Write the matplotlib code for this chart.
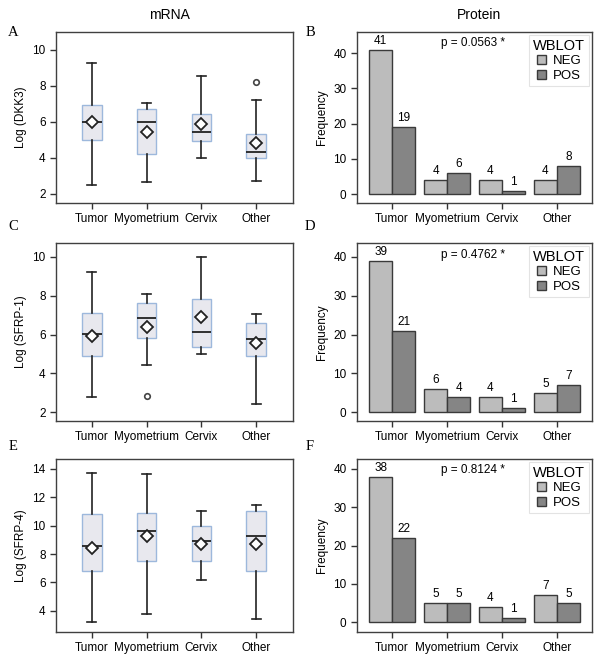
import matplotlib
matplotlib.use("Agg")
import matplotlib.pyplot as plt
import numpy as np

plt.rcParams['font.family'] = ['Liberation Sans', 'DejaVu Sans']

groups = ["Tumor", "Myometrium", "Cervix", "Other"]

# mRNA box stats
dkk3_low = [2.48, 2.66, 3.99, 2.70]
dkk3_q1 = [4.99, 4.25, 4.94, 3.99]
dkk3_med = [5.99, 5.99, 5.42, 4.34]
dkk3_q3 = [6.93, 6.71, 6.47, 5.32]
dkk3_high = [9.26, 7.04, 8.56, 7.25]
dkk3_mean = [6.0, 5.47, 5.88, 4.82]
dkk3_out = [[], [], [], [8.24]]

sfrp1_low = [2.77, 4.42, 5.0, 2.41]
sfrp1_q1 = [4.87, 5.80, 5.35, 4.87]
sfrp1_med = [6.04, 6.83, 6.11, 5.75]
sfrp1_q3 = [7.11, 7.64, 7.85, 6.57]
sfrp1_high = [9.23, 8.08, 10.0, 7.07]
sfrp1_mean = [5.94, 6.39, 6.88, 5.56]
sfrp1_out = [[], [2.84], [], []]

sfrp4_low = [3.17, 3.79, 6.17, 3.41]
sfrp4_q1 = [6.78, 7.54, 7.54, 6.78]
sfrp4_med = [8.58, 9.64, 8.89, 9.27]
sfrp4_q3 = [10.82, 10.92, 9.99, 11.06]
sfrp4_high = [13.72, 13.67, 11.0, 11.44]
sfrp4_mean = [8.41, 9.24, 8.72, 8.72]
sfrp4_out = [[], [], [], []]

# protein counts
dkk3_neg = [41, 4, 4, 4]
dkk3_pos = [19, 6, 1, 8]
sfrp1_neg = [39, 6, 4, 5]
sfrp1_pos = [21, 4, 1, 7]
sfrp4_neg = [38, 5, 4, 7]
sfrp4_pos = [22, 5, 1, 5]
p_values = ["p = 0.0563 *", "p = 0.4762 *", "p = 0.8124 *"]

W, H = 602, 663
fig = plt.figure(figsize=(W / 100, H / 100), dpi=100)


def make_ax(l, r, t, b):
    return fig.add_axes([l / W, 1 - b / H, (r - l) / W, (b - t) / H])


def style_ax(ax):
    for s in ax.spines.values():
        s.set_color("#404040")
        s.set_linewidth(1.0)
    ax.tick_params(direction="out", length=4, width=1, colors="#333333",
                   labelsize=8.5, labelcolor="black")
    ax.set_xticks(range(1, 5))
    ax.set_xticklabels(groups)


def box_panel(ax, low, q1, med, q3, high, mean, out, ylabel, ylim, yticks):
    stats = []
    for i in range(4):
        stats.append(dict(whislo=low[i], q1=q1[i], med=med[i], q3=q3[i],
                          whishi=high[i], mean=mean[i], fliers=out[i]))
    ax.bxp(stats, positions=range(1, 5), widths=0.36, showmeans=True,
           patch_artist=True, capwidths=0.16,
           boxprops=dict(facecolor="#e8e8ee", edgecolor="#9db8dc", linewidth=1.0),
           whiskerprops=dict(color="#222222", linewidth=1.2),
           capprops=dict(color="#222222", linewidth=1.2),
           medianprops=dict(color="#222222", linewidth=1.3),
           meanprops=dict(marker="D", markerfacecolor="white",
                          markeredgecolor="#222222", markersize=6,
                          markeredgewidth=1.3),
           flierprops=dict(marker="o", markerfacecolor="white",
                           markeredgecolor="#444444", markersize=4,
                           markeredgewidth=1.2))
    style_ax(ax)
    ax.set_xlim(0.35, 4.67)
    ax.set_ylim(*ylim)
    ax.set_yticks(yticks)
    ax.set_ylabel(ylabel, fontsize=8.5)


def bar_panel(ax, neg, pos, pval, ylim):
    x = np.arange(1, 5)
    w = 0.42
    b1 = ax.bar(x - w / 2, neg, w, color="#bcbcbc", edgecolor="#3a3a3a",
                linewidth=1.0, label="NEG")
    b2 = ax.bar(x + w / 2, pos, w, color="#858585", edgecolor="#3a3a3a",
                linewidth=1.0, label="POS")
    for bars in (b1, b2):
        for r in bars:
            ax.annotate(str(int(r.get_height())),
                        (r.get_x() + r.get_width() / 2, r.get_height()),
                        xytext=(0, 2), textcoords="offset points",
                        ha="center", va="bottom", fontsize=8.5)
    style_ax(ax)
    ax.set_xlim(0.36, 4.64)
    ax.set_ylim(*ylim)
    ax.set_yticks([0, 10, 20, 30, 40])
    ax.set_ylabel("Frequency", fontsize=8.5)
    ax.text(0.495, 0.935, pval, transform=ax.transAxes, ha="center", va="center",
            fontsize=8.5)
    leg = ax.legend(title="WBLOT", loc="upper right", fontsize=9.5,
                    title_fontsize=10.5, frameon=True, fancybox=False,
                    handlelength=0.7, handleheight=0.7, handletextpad=0.5,
                    borderpad=0.3, labelspacing=0.2, borderaxespad=0.2)
    leg.get_frame().set_edgecolor("#dddddd")
    leg.get_frame().set_linewidth(0.8)


axA = make_ax(56, 293, 32, 203)
box_panel(axA, dkk3_low, dkk3_q1, dkk3_med, dkk3_q3, dkk3_high, dkk3_mean,
          dkk3_out, "Log (DKK3)", (1.5, 11), [2, 4, 6, 8, 10])
axB = make_ax(357, 592, 32, 203)
bar_panel(axB, dkk3_neg, dkk3_pos, p_values[0], (-2.5, 46))

axC = make_ax(56, 293, 243, 421)
box_panel(axC, sfrp1_low, sfrp1_q1, sfrp1_med, sfrp1_q3, sfrp1_high, sfrp1_mean,
          sfrp1_out, "Log (SFRP-1)", (1.54, 10.72), [2, 4, 6, 8, 10])
axD = make_ax(357, 592, 243, 421)
bar_panel(axD, sfrp1_neg, sfrp1_pos, p_values[1], (-2.3, 43.6))

axE = make_ax(56, 293, 459, 632)
box_panel(axE, sfrp4_low, sfrp4_q1, sfrp4_med, sfrp4_q3, sfrp4_high, sfrp4_mean,
          sfrp4_out, "Log (SFRP-4)", (2.5, 14.7), [4, 6, 8, 10, 12, 14])
axF = make_ax(357, 592, 459, 632)
bar_panel(axF, sfrp4_neg, sfrp4_pos, p_values[2], (-2.6, 42.6))

fig.text(169 / W, 1 - 15 / H, "mRNA", ha="center", va="center", fontsize=10)
fig.text(479 / W, 1 - 15 / H, "Protein", ha="center", va="center", fontsize=10)

letters = [("A", 13, 32), ("B", 310, 32), ("C", 13, 227),
           ("D", 310, 226), ("E", 13, 446), ("F", 310, 446)]
for s, lx, ly in letters:
    fig.text(lx / W, 1 - ly / H, s, ha="center", va="center", fontsize=10.5,
             family="Liberation Serif")

fig.savefig("out.png", dpi=100)
